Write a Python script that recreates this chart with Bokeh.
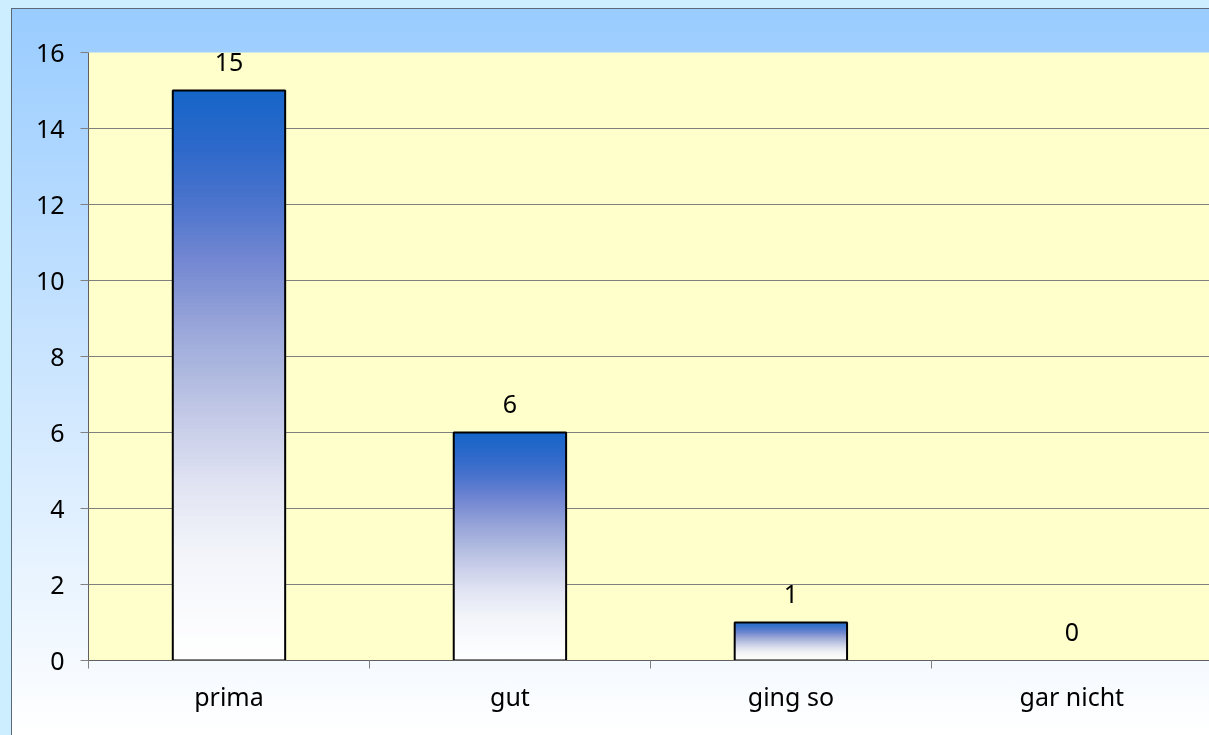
from bokeh.plotting import figure
from bokeh.models import Range1d, FixedTicker, ColumnDataSource
from bokeh.embed import file_html
from bokeh.resources import INLINE
from bokeh.core.properties import value

# ---- data ----
categories = ["prima", "gut", "ging so", "gar nicht"]
counts = [15, 6, 1, 0]
y_ticks = [0, 2, 4, 6, 8, 10, 12, 14, 16]

# ---- style ----
FONT = "Noto Sans"
FSIZE = "25px"
grad_stops = [
    (0.00, "#1565C8"), (0.10, "#2D69CA"), (0.20, "#4C74CD"), (0.30, "#7488D2"),
    (0.40, "#94A2D8"), (0.50, "#B0BAE0"), (0.60, "#CBD0EA"), (0.70, "#E2E5F3"),
    (0.80, "#F1F3F9"), (0.90, "#F9FAFD"), (1.00, "#FFFFFF"),
]
N_SLICES = 150
BAR_HALF = 0.2


def hex2rgb(h):
    h = h.lstrip("#")
    return tuple(int(h[i:i + 2], 16) for i in (0, 2, 4))


def grad_color(t):
    for (t0, c0), (t1, c1) in zip(grad_stops[:-1], grad_stops[1:]):
        if t <= t1:
            f = (t - t0) / (t1 - t0) if t1 > t0 else 0
            a, b = hex2rgb(c0), hex2rgb(c1)
            r = [round(a[k] + (b[k] - a[k]) * f) for k in range(3)]
            return "#%02x%02x%02x" % tuple(r)
    return grad_stops[-1][1]


p = figure(
    width=1197, height=726,
    x_range=Range1d(0, 3.99), y_range=Range1d(0, 16),
    output_backend="svg", toolbar_location=None,
    min_border_left=76, min_border_top=43, min_border_bottom=75, min_border_right=0,
)
p.border_fill_color = None
p.background_fill_color = "#FFFFCC"
p.outline_line_color = None
p.styles = {
    "position": "fixed", "left": "12px", "top": "9px",
    "background": "linear-gradient(to bottom, #99CCFF 0%, #FFFFFF 100%)",
    "box-shadow": "0 0 0 1px #5a6878, 0 0 0 14px #CCEEFF",
}

# gradient bars built from thin overlapping slices of each value
sl = dict(left=[], right=[], bottom=[], top=[], color=[])
for i, v in enumerate(counts):
    if v <= 0:
        continue
    cx = i + 0.5
    for k in range(N_SLICES):
        sl["left"].append(cx - BAR_HALF)
        sl["right"].append(cx + BAR_HALF)
        sl["bottom"].append(v * k / N_SLICES)
        sl["top"].append(min(v, v * (k + 2) / N_SLICES))
        sl["color"].append(grad_color(1 - (k + 0.5) / N_SLICES))
p.quad(left="left", right="right", bottom="bottom", top="top", fill_color="color",
       line_color=None, source=ColumnDataSource(sl))

pos = [i + 0.5 for i in range(len(categories))]
nz = [(x, v) for x, v in zip(pos, counts) if v > 0]
p.quad(left=[x - BAR_HALF for x, _ in nz], right=[x + BAR_HALF for x, _ in nz],
       bottom=0, top=[v for _, v in nz], fill_color=None, line_color="black", line_width=2)

p.text(x=pos, y=counts, text=[str(c) for c in counts], text_align="center",
       text_baseline="alphabetic", y_offset=-29, text_font=value(FONT),
       text_font_size=FSIZE, text_color="black")

# grid
p.xgrid.visible = False
p.ygrid.ticker = FixedTicker(ticks=y_ticks)
p.ygrid.grid_line_color = "#808080"
p.ygrid.grid_line_width = 1

# y axis
ya = p.yaxis[0]
ya.ticker = FixedTicker(ticks=y_ticks)
ya.axis_line_color = "#606060"
ya.major_tick_line_color = "#808080"
ya.major_tick_out = 8
ya.major_tick_in = 0
ya.minor_tick_line_color = None
ya.major_label_standoff = 16
ya.major_label_text_font = FONT
ya.major_label_text_font_size = FSIZE
ya.major_label_text_color = "black"

# x axis: labels at category centres, tick marks at boundaries
xa = p.xaxis[0]
xa.ticker = FixedTicker(ticks=pos, minor_ticks=[0, 1, 2, 3])
xa.major_label_overrides = {x: c for x, c in zip(pos, categories)}
xa.axis_line_color = "#606060"
xa.major_tick_line_color = None
xa.major_tick_out = 8
xa.major_tick_in = 0
xa.minor_tick_line_color = "#808080"
xa.minor_tick_out = 8
xa.minor_tick_in = 0
xa.major_label_standoff = 10
xa.major_label_text_font = FONT
xa.major_label_text_font_size = FSIZE
xa.major_label_text_color = "black"

open("out.html", "w").write(file_html(p, INLINE))
